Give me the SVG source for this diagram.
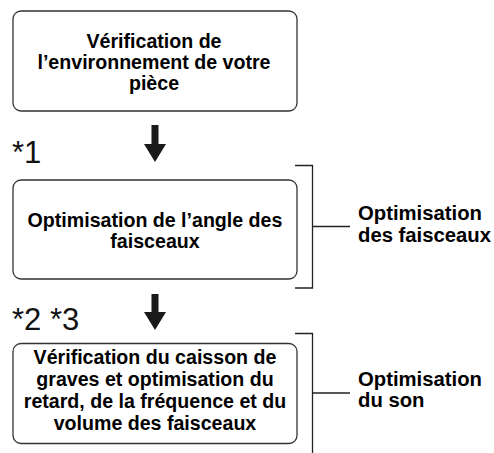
<svg xmlns="http://www.w3.org/2000/svg" width="494" height="453" viewBox="0 0 494 453">
<style>
.box{fill:#fff;stroke:#333;stroke-width:1.3}
.bt{font-family:"Liberation Sans",Arial,sans-serif;font-weight:bold;font-size:19.6px;fill:#000;text-anchor:middle}
.lb{font-family:"Liberation Sans",Arial,sans-serif;font-weight:bold;font-size:20.3px;fill:#000}
.note{font-family:"Liberation Sans",Arial,sans-serif;font-size:31px;fill:#111}
.ln{fill:none;stroke:#222;stroke-width:1.3}
.arr{fill:#1a1a1a}
</style>
<rect width="494" height="453" fill="#fff"/>
<g id="node-room">
<rect class="box" x="13" y="11" width="284" height="100" rx="8"/>
<text class="bt" x="154" y="48">Vérification de</text>
<text class="bt" x="154" y="69">l’environnement de votre</text>
<text class="bt" x="154" y="90">pièce</text>
</g>
<g id="node-angle">
<rect class="box" x="13" y="180" width="284" height="99" rx="8"/>
<text class="bt" x="155" y="227">Optimisation de l’angle des</text>
<text class="bt" x="155" y="248">faisceaux</text>
</g>
<g id="node-sound">
<rect class="box" x="13" y="343.5" width="284" height="100" rx="8"/>
<text class="bt" x="155" y="364">Vérification du caisson de</text>
<text class="bt" x="155" y="386">graves et optimisation du</text>
<text class="bt" x="155" y="408">retard, de la fréquence et du</text>
<text class="bt" x="155" y="430">volume des faisceaux</text>
</g>
<g id="label-beams">
<text class="lb" x="358" y="220">Optimisation</text>
<text class="lb" x="358" y="242">des faisceaux</text>
</g>
<g id="label-sound">
<text class="lb" x="358" y="386">Optimisation</text>
<text class="lb" x="358" y="407">du son</text>
</g>
<g id="notes">
<text class="note" x="12" y="163">*1</text>
<text class="note" x="12" y="330">*2 *3</text>
</g>
<g id="connectors">
<path class="arr" d="M151.5,125 H158.5 V144 H166 L155,162 L144,144 H151.5 Z"/>
<path class="arr" d="M151.5,294 H158.5 V312 H166 L155,330 L144,312 H151.5 Z"/>
<path class="ln" d="M295,165.5 H312.5 V288 H295 M312.5,226.5 H350"/>
<path class="ln" d="M295,333.5 H312.5 V453 M312.5,393 H350"/>
</g>
</svg>
